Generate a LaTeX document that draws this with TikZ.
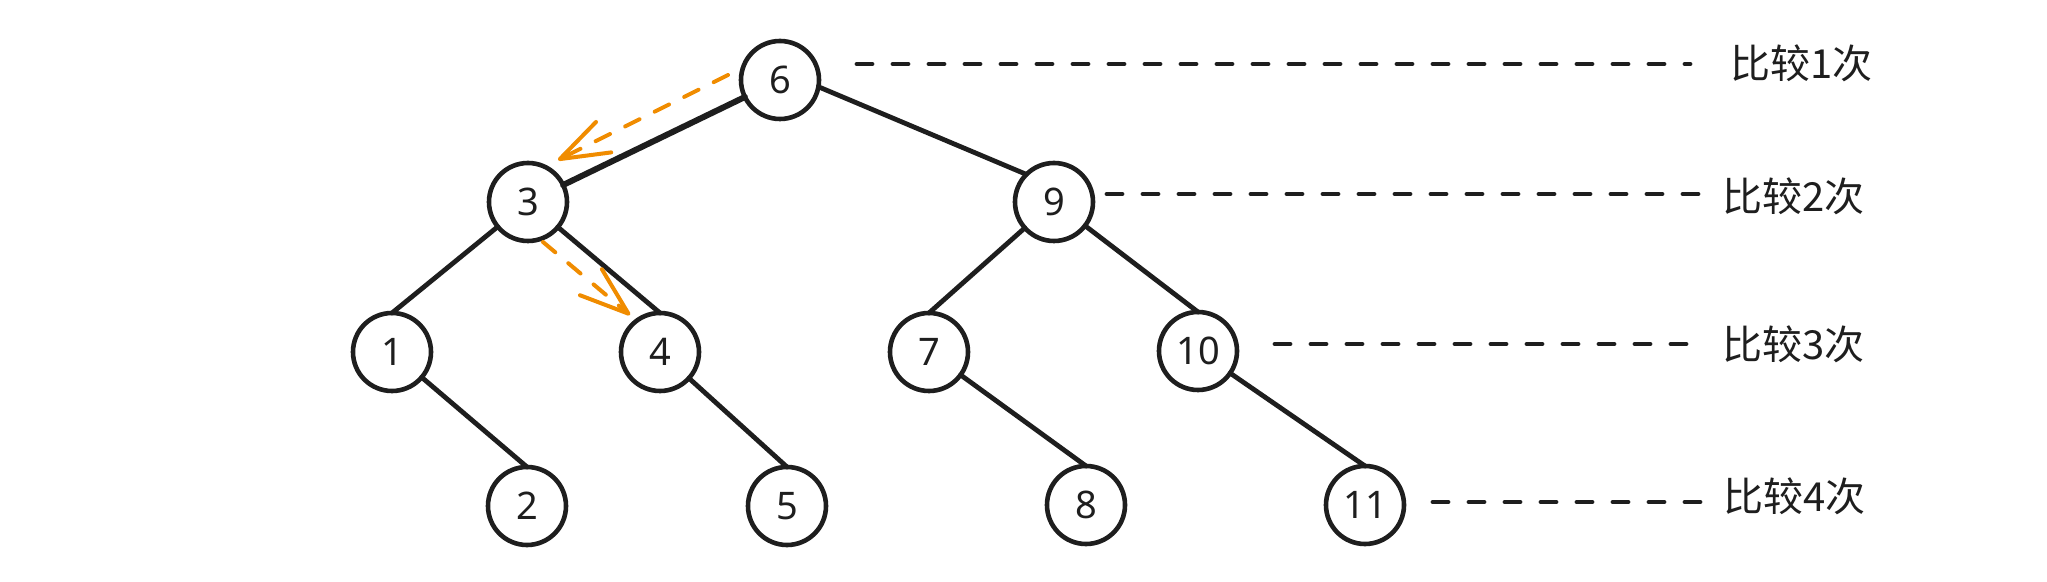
\documentclass[tikz,border=0pt]{standalone}
\usepackage{fontspec}
\setmainfont{Noto Sans}
\newfontfamily\cjk{Noto Sans CJK SC}
\usetikzlibrary{arrows.meta}
\definecolor{ink}{HTML}{1E1E1E}
\definecolor{orng}{HTML}{F08C00}
\begin{document}
\begin{tikzpicture}[x=0.5pt,y=-0.5pt,
  tnode/.style={circle, draw=ink, line width=2.3pt, minimum size=39pt, inner sep=0pt, outer sep=0pt,
    font=\fontsize{19}{19}\selectfont, text=ink},
  edge/.style={draw=ink, line width=2.4pt, line cap=round},
  thickedge/.style={draw=ink, line width=3pt, line cap=round},
  lvl/.style={draw=ink, line width=2.4pt, line cap=round, dash pattern=on 7.5pt off 10.5pt},
  lab/.style={anchor=west, inner sep=0pt, text=ink, font=\cjk\fontsize{20}{20}\selectfont},
  oarrow/.style={draw=orng, line width=2pt, line cap=round, dash pattern=on 8pt off 8.5pt,
    -{Straight Barb[length=24.5pt, width=17pt, line width=2pt, round]}}
]
\fill[white] (0,0) rectangle (2047,582);
\useasboundingbox (0,0) rectangle (2047,582);

% tree nodes
\node[tnode] (n6) at (780,80) {6};
\node[tnode] (n3) at (528,202) {3};
\node[tnode] (n9) at (1054,202) {9};
\node[tnode] (n1) at (392,352) {1};
\node[tnode] (n4) at (660,352) {4};
\node[tnode] (n7) at (929,352) {7};
\node[tnode] (n10) at (1198,351) {10};
\node[tnode] (n2) at (527,506) {2};
\node[tnode] (n5) at (787,506) {5};
\node[tnode] (n8) at (1086,505) {8};
\node[tnode] (n11) at (1365,505) {11};

% edges
\draw[thickedge] (n6) -- (n3);
\draw[edge] (n6.-10) -- (n9.north west);
\draw[edge] (n3) -- (n1.north);
\draw[edge] (n3) -- (n4.north);
\draw[edge] (n1) -- (n2.north);
\draw[edge] (n4) -- (n5.north);
\draw[edge] (n9) -- (n7.north);
\draw[edge] (n9) -- (n10.north);
\draw[edge] (n7) -- (n8.north);
\draw[edge] (n10) -- (n11.north);

% labels
\node[lab] (l1) at (1730,63) {比较1次};
\node[lab] (l2) at (1722,196) {比较2次};
\node[lab] (l3) at (1722,344) {比较3次};
\node[lab] (l4) at (1723,496) {比较4次};

% level dashed lines
\coordinate (d1s) at (857,64);  \coordinate (d1e) at (1690,64);
\coordinate (d2s) at (1107,194); \coordinate (d2e) at (1700,194);
\coordinate (d3s) at (1275,344); \coordinate (d3e) at (1690,344);
\coordinate (d4s) at (1433,502); \coordinate (d4e) at (1700,502);
\draw[lvl] (d1s) -- (d1e);
\draw[lvl] (d2s) -- (d2e);
\draw[lvl] (d3s) -- (d3e);
\draw[lvl] (d4s) -- (d4e);

% orange search path arrows
\coordinate (a1s) at (728,75);  \coordinate (a1e) at (558,160);
\coordinate (a2s) at (543,242); \coordinate (a2e) at (630,315);
\draw[oarrow] (a1s) -- (a1e);
\draw[oarrow] (a2s) -- (a2e);
\end{tikzpicture}
\end{document}
